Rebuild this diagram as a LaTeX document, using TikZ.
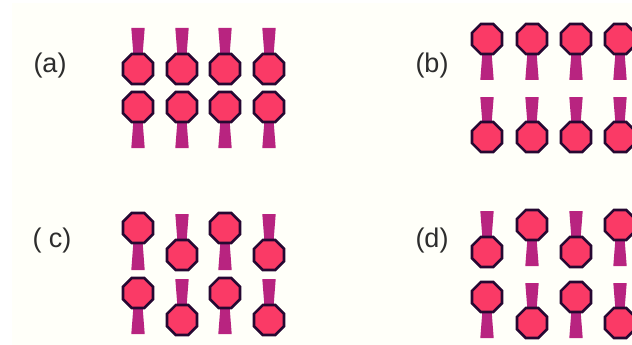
\documentclass[tikz,border=0pt]{standalone}
\usepackage{fontspec}
\setmainfont{Liberation Sans}
\usetikzlibrary{shapes.geometric}
\definecolor{cream}{RGB}{255,255,249}
\definecolor{tailcol}{RGB}{184,36,128}
\definecolor{headcol}{RGB}{250,58,102}
\definecolor{rimcol}{RGB}{38,8,50}
\definecolor{labelcol}{RGB}{45,45,45}
\tikzset{
  headnode/.style={regular polygon,regular polygon sides=8,minimum size=32.4pt,inner sep=0pt,
    draw=rimcol,line width=2.6pt,fill=headcol},
  labelnode/.style={text=labelcol,font=\fontsize{27}{27}\selectfont,inner sep=0pt}
}
\newcommand{\amphi}[3]{
\fill [tailcol] (#1-3.5,#2)--(#1-6.7,#3)--(#1+6.7,#3)--(#1+3.5,#2)--cycle;
\node [headnode] (head#1x#2) at (#1,#2) {};
}
\begin{document}
\begin{tikzpicture}[x=1pt,y=-1pt]
\useasboundingbox (0,0) rectangle (632,345);
\clip (0,0) rectangle (632,345);
\fill [white] (0,0) rectangle (632,345);
\fill [cream] (12,3) rectangle (632,345);
\node [labelnode] (labela) at (50,66) {(a)};
\node [labelnode] (labelb) at (432,66) {(b)};
\node [labelnode] (labelc) at (52,241) {( c)};
\node [labelnode] (labeld) at (432,241) {(d)};
% panel a
\foreach \x in {138,182,225,269} {
  \amphi{\x}{69}{28}
  \amphi{\x}{107}{148}
}
% panel b
\foreach \x in {487,532,576,620} {
  \amphi{\x}{39}{80}
  \amphi{\x}{137}{97}
}
% panel c
\foreach \x in {138,225} {
  \amphi{\x}{228}{270}
  \amphi{\x}{293}{334}
}
\foreach \x in {182,269} {
  \amphi{\x}{255}{214}
  \amphi{\x}{320}{279}
}
% panel d
\foreach \x in {487,576} {
  \amphi{\x}{252}{211}
  \amphi{\x}{297}{338}
}
\foreach \x in {532,620} {
  \amphi{\x}{225}{266}
  \amphi{\x}{323}{283}
}
\end{tikzpicture}
\end{document}
